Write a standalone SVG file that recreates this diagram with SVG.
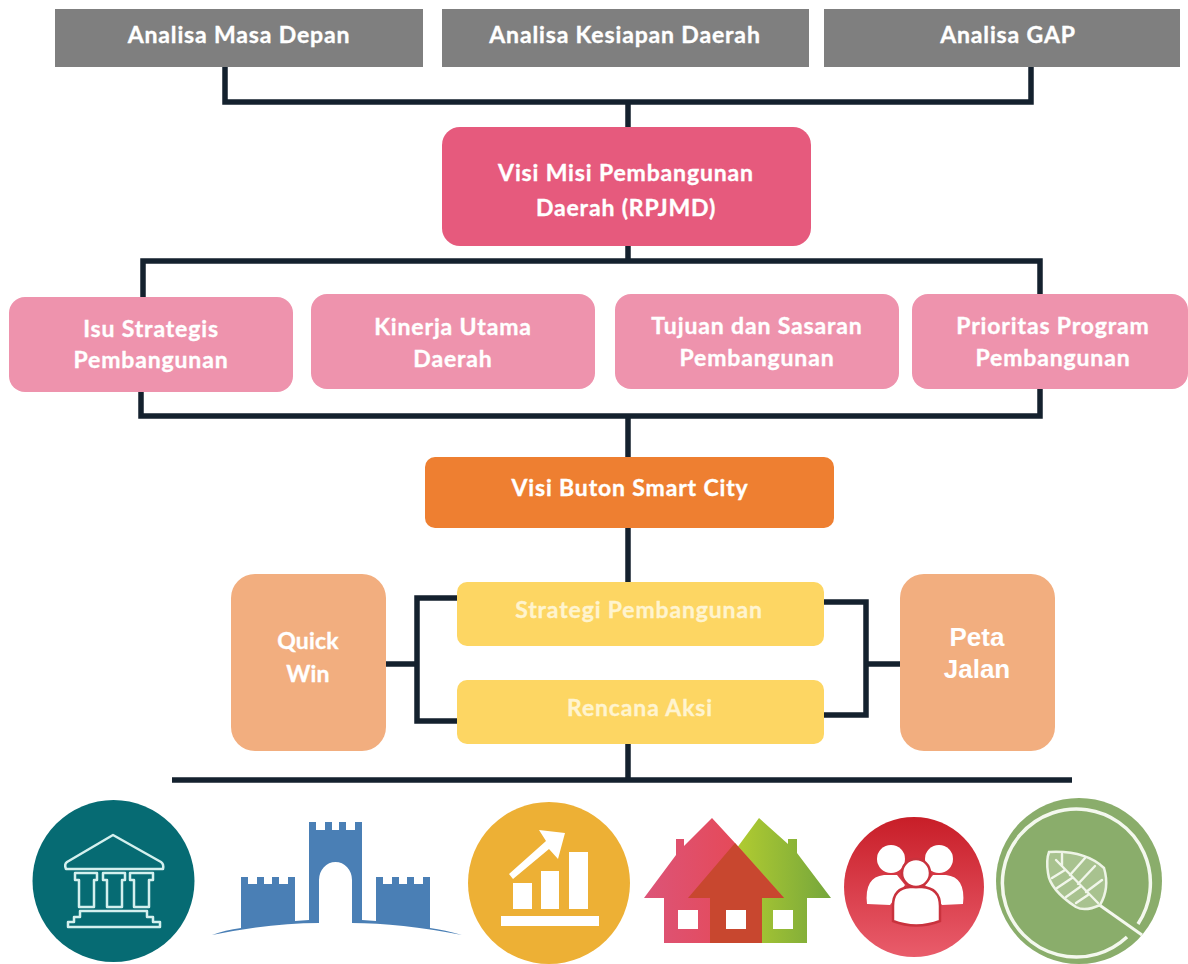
<svg xmlns="http://www.w3.org/2000/svg" width="1188" height="964" viewBox="0 0 1188 964">
<style>
.t{font-family:"Lato","Open Sans","Liberation Sans",sans-serif;font-weight:700;font-size:23px;letter-spacing:.85px;fill:#fff;stroke:#fff;stroke-width:.35px;text-anchor:middle}
.q{letter-spacing:.2px}
.y{fill:#fff4cf;stroke:#fff4cf}
.p{font-family:"Liberation Sans",Arial,sans-serif;font-weight:700;font-size:26px;fill:#fff;text-anchor:middle}
.c{fill:none;stroke:#14212e;stroke-width:5.500}
.gray{fill:#7f7f7f}
.pink{fill:#ee93ad}
.peach{fill:#f2ae7f}
.yellow{fill:#fdd663}
.ln{fill:none;stroke:#d4f0ee;stroke-width:2.500;stroke-linejoin:round}
.w{fill:#fff}
.v{fill:none;stroke:#f1f6ea;stroke-width:2.400;stroke-linecap:round}
</style>
<defs>
<linearGradient id="gp" x1="0" x2="1" y1="0" y2="0"><stop offset="0" stop-color="#dc5478"/><stop offset="1" stop-color="#ea4449"/></linearGradient>
<linearGradient id="gg" x1="0" x2="1" y1="0" y2="0"><stop offset="0" stop-color="#c8da2c"/><stop offset="1" stop-color="#75a63c"/></linearGradient>
<linearGradient id="gr" x1="0" x2="0" y1="0" y2="1"><stop offset="0" stop-color="#c81e28"/><stop offset="1" stop-color="#e95c6b"/></linearGradient>
</defs>
<rect width="1188" height="964" fill="#fff"/>
<g id="connectors">
<path class="c" d="M225,67V102H1031V67M628,102V127"/>
<path class="c" d="M628,246V261M143,297V261H1040V294"/>
<path class="c" d="M141,392V416H1040V389M628,416V457"/>
<path class="c" d="M628,528V582"/>
<path class="c" d="M457,598H417V721H457M386,664H417"/>
<path class="c" d="M824,602H866V715H824M866,664H900"/>
<path class="c" d="M628,744V780M172,780H1072"/>
</g>
<g id="analisa-masa-depan"><rect class="gray" x="55" y="9" width="368" height="58"/><text class="t" x="239" y="43">Analisa Masa Depan</text></g>
<g id="analisa-kesiapan"><rect class="gray" x="442" y="9" width="367" height="58"/><text class="t" x="625" y="43">Analisa Kesiapan Daerah</text></g>
<g id="analisa-gap"><rect class="gray" x="824" y="9" width="356" height="58"/><text class="t" x="1008" y="43">Analisa GAP</text></g>
<g id="visi-misi"><rect x="442" y="127" width="369" height="119" rx="18" fill="#e65a7d"/><text class="t" x="626" y="181">Visi Misi Pembangunan</text><text class="t" x="626" y="216">Daerah (RPJMD)</text></g>
<g id="isu"><rect class="pink" x="9" y="297" width="284" height="95" rx="16"/><text class="t" x="151" y="337">Isu Strategis</text><text class="t" x="151" y="368">Pembangunan</text></g>
<g id="kinerja"><rect class="pink" x="311" y="294" width="284" height="95" rx="16"/><text class="t" x="453" y="335">Kinerja Utama</text><text class="t" x="453" y="367">Daerah</text></g>
<g id="tujuan"><rect class="pink" x="615" y="294" width="284" height="95" rx="16"/><text class="t" x="757" y="334">Tujuan dan Sasaran</text><text class="t" x="757" y="366">Pembangunan</text></g>
<g id="prioritas"><rect class="pink" x="912" y="294" width="276" height="95" rx="16"/><text class="t" x="1053" y="334">Prioritas Program</text><text class="t" x="1053" y="366">Pembangunan</text></g>
<g id="visi-buton"><rect x="425" y="457" width="409" height="71" rx="10" fill="#ee7f31"/><text class="t" x="630" y="496">Visi Buton Smart City</text></g>
<g id="quick-win"><rect class="peach" x="231" y="574" width="155" height="177" rx="24"/><text class="t q" x="308" y="649">Quick</text><text class="t q" x="308" y="682">Win</text></g>
<g id="peta-jalan"><rect class="peach" x="900" y="574" width="155" height="177" rx="24"/><text class="p" x="977" y="646">Peta</text><text class="p" x="977" y="678">Jalan</text></g>
<g id="strategi"><rect class="yellow" x="457" y="582" width="367" height="64" rx="10"/><text class="t y" x="639" y="618">Strategi Pembangunan</text></g>
<g id="rencana"><rect class="yellow" x="457" y="680" width="367" height="64" rx="10"/><text class="t y" x="640" y="716">Rencana Aksi</text></g>
<g id="icon-temple">
<circle cx="113.500" cy="881" r="81" fill="#066b73"/>
<path class="ln" d="M113,835L161,862Q164,864 163,869H66Q64,864 67,862Z"/>
<path class="ln" d="M75,873H97V880H94V907H79V880H75ZM103,873H125V880H122V907H107V880H103ZM130,873H153V880H149V907H134V880H130Z"/>
<path class="ln" d="M80,911H147V917H153V922H160V927H68V922H74V917H80Z"/>
</g>
<g id="icon-castle">
<path fill="#4a7fb5" d="M212,935Q225,930 241,928V877H248V884H257V877H264V884H272V877H279V884H288V877H295V921L309,920V822H316V830H325V822H332V830H339V822H346V830H355V822H362V920L376,921V877H383V884H392V877H399V884H407V877H414V884H423V877H430V928Q445,930 462,935Q400,923 352,923V880A16.500,18 0 0 0 319,880V923Q270,923 212,935Z"/>
</g>
<g id="icon-chart">
<circle cx="549" cy="883" r="81" fill="#edb035"/>
<path class="w" d="M513,883H532V909H513ZM541,871H559V909H541ZM569,852H588V909H569ZM501,916H599V926H501Z"/>
<path class="w" d="M509,874L513,879L549,849L558,859L565,833L539,830L546,841Z"/>
</g>
<g id="icon-houses">
<path fill="url(#gg)" d="M759,818L788,844V839H797V853L831,898H807V943H762V898H700Z"/>
<path fill="url(#gp)" d="M712,818L735,843L784,898H762V943H664V898H644L676,855V839H684V846Z"/>
<path fill="#c8472f" d="M735,843L784,898H762V943H710V898H688Z"/>
<path class="w" d="M678,910H698V929H678ZM726,910H746V929H726ZM773,910H793V929H773Z"/>
</g>
<g id="icon-people">
<circle cx="914" cy="887" r="70" fill="url(#gr)"/>
<circle class="w" cx="891" cy="859" r="14"/><circle class="w" cx="939" cy="859" r="14"/>
<path class="w" d="M867,904Q864,877 884,875H897L905,885L890,905ZM963,904Q966,877 946,875H933L925,885L942,905Z"/>
<path class="w" stroke="#c9323d" stroke-width="2.500" d="M893,921V906Q893,888 910,887H922Q940,888 940,906V921Q916,930 893,921Z"/>
<circle class="w" stroke="#c9323d" stroke-width="2.500" cx="916" cy="873" r="14"/>
</g>
<g id="icon-leaf">
<circle cx="1079" cy="881" r="83" fill="#8aad6b"/>
<path fill="none" stroke="#f4f8ee" stroke-width="3.500" d="M1138,924A74,74 0 1 0 1127,937"/>
<path fill="none" stroke="#f4f8ee" stroke-width="3" d="M1098,904L1142,935"/>
<path fill="#a8c28f" stroke="#eef4e6" stroke-width="2.500" d="M1049,852Q1085,850 1104,868Q1110,888 1100,905Q1085,912 1076,907Q1050,890 1048,873Q1046,860 1049,852Z"/>
<path class="v" d="M1056,860L1098,903M1062,866V854M1070,875L1085,858M1078,884L1095,866M1086,892L1102,880M1065,870L1052,878M1072,878L1057,888M1080,887L1066,897M1088,895L1076,903"/>
</g>
</svg>
